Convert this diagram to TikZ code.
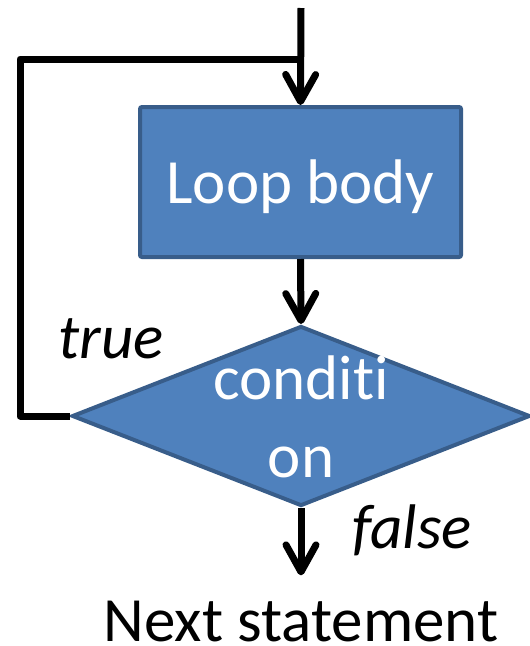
\documentclass[tikz,border=0pt]{standalone}
\usepackage{fontspec}
\setmainfont[Ligatures={NoCommon}]{Carlito}
\usetikzlibrary{shapes.geometric,arrows.meta}
\definecolor{boxfill}{HTML}{4F81BD}
\definecolor{boxline}{HTML}{385D8A}
\begin{document}
\begin{tikzpicture}[x=1pt,y=-1pt,
  flow/.style={line width=7pt, line join=round},
  arrowline/.style={flow, -{Straight Barb[length=27pt,width=30pt,line cap=round,line join=round]}},
  blockstyle/.style={fill=boxfill, draw=boxline, line width=4pt},
  bigtext/.style={font=\fontsize{63}{76}\selectfont, inner sep=0pt},
  italictext/.style={bigtext, font=\fontsize{63}{76}\selectfont\itshape},
]
\useasboundingbox (0,0) rectangle (530,646);

% blocks
\node[blockstyle, rectangle, rounded corners=2pt, minimum width=321pt, minimum height=150pt,
      text=white, bigtext, text height=50pt, text depth=8pt] (body) at (300.5,182) {Loop body};
\node[blockstyle, diamond, minimum width=458pt, minimum height=180pt, inner sep=0pt] (dia) at (301,416) {};
\node[bigtext, text=white, anchor=base] (cond1) at (301,399) {conditi};
\node[bigtext, text=white, anchor=base] (cond2) at (301,477) {on};

% labels
\node[bigtext, anchor=base, text depth=0pt] (next) at (301,641) {Next statement};
\node[italictext, anchor=base] (truelbl) at (111,358) {true};
\node[italictext, anchor=base] (falselbl) at (412,548) {false};

% connectors
\coordinate (start) at (301,8);
\coordinate (join) at (301,59);
\draw[arrowline] (start) -- (body.north);
\draw[arrowline] (body.south) -- (dia.north);
\draw[arrowline, shorten >=25pt] (dia.south) -- (next.north);
\draw[flow] (dia.west) -- ++(-50,0) |- (join);
\end{tikzpicture}
\end{document}
